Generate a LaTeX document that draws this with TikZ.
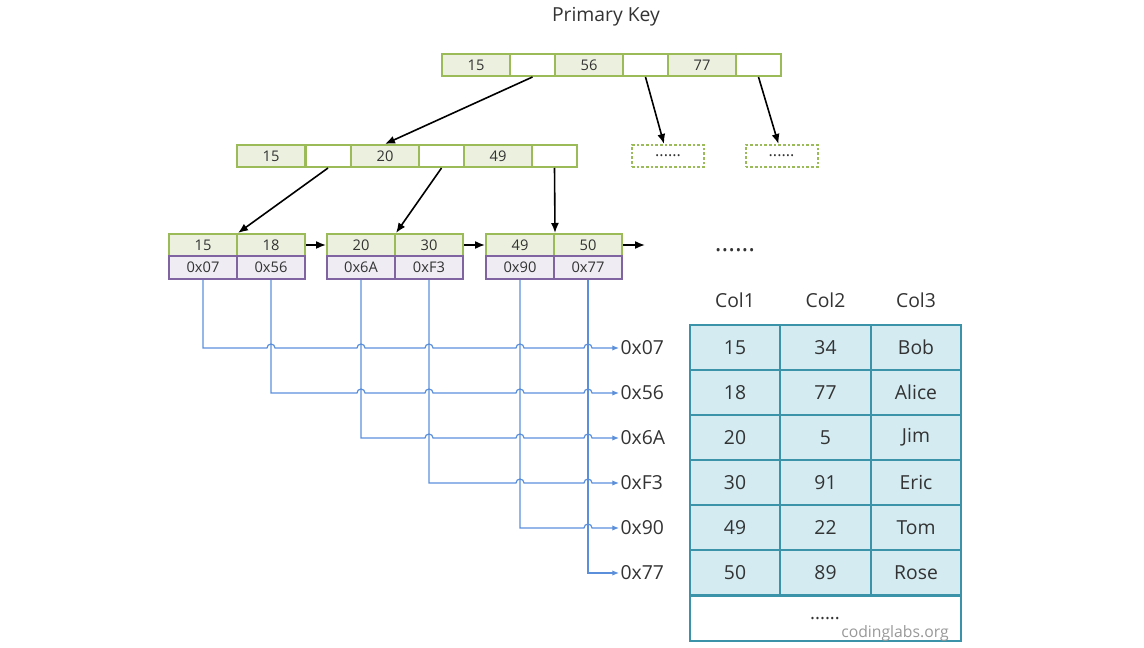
\documentclass[tikz,border=0pt]{standalone}
\usepackage{fontspec}
\setmainfont{Open Sans}
\usetikzlibrary{arrows.meta,calc}
\definecolor{kgreen}{HTML}{9BBB59}
\definecolor{kgreenf}{HTML}{EBF1DE}
\definecolor{kpurple}{HTML}{8064A2}
\definecolor{kpurplef}{HTML}{EFECF3}
\definecolor{bline}{HTML}{5B8FDB}
\definecolor{tfill}{HTML}{D3EBF1}
\definecolor{tborder}{HTML}{3A93A8}
\definecolor{txt}{HTML}{333333}
\begin{document}
\begin{tikzpicture}[x=0.75pt,y=-0.75pt,
  kc/.style={draw=kgreen, fill=kgreenf, line width=1.5pt, minimum width=51pt, minimum height=16.5pt, inner sep=0pt, text=txt, font=\fontsize{11}{12}\selectfont},
  ec/.style={kc, fill=white, minimum width=33.75pt},
  dc/.style={draw=kgreen, line width=1.5pt, dash pattern=on 2pt off 1.5pt, minimum width=54pt, minimum height=16.5pt, inner sep=0pt, text=txt, font=\fontsize{12}{12}\selectfont},
  pc/.style={draw=kpurple, fill=kpurplef, line width=1.5pt, minimum width=51pt, minimum height=17pt, inner sep=0pt, text=txt, font=\fontsize{11}{12}\selectfont},
  tc/.style={draw=tborder, fill=tfill, line width=1.5pt, minimum width=67.9pt, minimum height=33.75pt, inner sep=0pt, text=txt, font=\fontsize{14.5}{16}\selectfont},
  lbl/.style={text=txt, inner sep=1pt, font=\fontsize{14.5}{16}\selectfont},
  arr/.style={line width=1.2pt, -{Latex[length=7.5pt,width=6pt]}},
  bl/.style={draw=bline, line width=0.9pt, -{Latex[length=5pt,width=4pt]}}
]
\useasboundingbox (0,0) rectangle (1144,648);

\node[lbl] (title) at (606,17) {Primary Key};

% root
\node[kc] (r15) at (476,65) {15};
\node[ec] (re1) at (532.5,65) {};
\node[kc] (r56) at (589,65) {56};
\node[ec] (re2) at (645.5,65) {};
\node[kc] (r77) at (702,65) {77};
\node[ec] (re3) at (758.5,65) {};

% level 2
\node[kc] (m15) at (271,156) {15};
\node[ec] (me1) at (328,156) {};
\node[kc] (m20) at (385,156) {20};
\node[ec] (me2) at (441.5,156) {};
\node[kc] (m49) at (498,156) {49};
\node[ec] (me3) at (554.5,156) {};
\node[dc] (d1) at (668,156) {......};
\node[dc] (d2) at (781.5,156) {......};

% leaves
\node[kc] (k15) at (203,245) {15};
\node[kc] (k18) at (271,245) {18};
\node[kc] (k20) at (361,245) {20};
\node[kc] (k30) at (429,245) {30};
\node[kc] (k49) at (520,245) {49};
\node[kc] (k50) at (588,245) {50};
\node[pc] (p07) at (203,267.5) {0x07};
\node[pc] (p56) at (271,267.5) {0x56};
\node[pc] (p6A) at (361,267.5) {0x6A};
\node[pc] (pF3) at (429,267.5) {0xF3};
\node[pc] (p90) at (520,267.5) {0x90};
\node[pc] (p77) at (588,267.5) {0x77};
\coordinate (nxt) at (645,245);

% tree arrows
\draw[arr] (re1.south) -- (m20.north);
\draw[arr] (re2.south) -- ($(d1.north)+(-4,0)$);
\draw[arr] (re3.south) -- ($(d2.north)+(-3,0)$);
\draw[arr] (me1.south) -- (k15.north east);
\draw[arr] (me2.south) -- (k20.north east);
\draw[arr] (me3.south) -- (k49.north east);
\draw[arr] (k18.east) -- (k20.west);
\draw[arr] (k30.east) -- (k49.west);
\draw[arr] (k50.east) -- (nxt);

\node[text=txt, inner sep=0pt, font=\fontsize{19}{20}\selectfont] (dots) at (735,250) {......};

% address labels
\node[lbl, anchor=west] (l07) at (619,348) {0x07};
\node[lbl, anchor=west] (l56) at (619,393) {0x56};
\node[lbl, anchor=west] (l6A) at (619,438) {0x6A};
\node[lbl, anchor=west] (lF3) at (619,483) {0xF3};
\node[lbl, anchor=west] (l90) at (619,528) {0x90};
\node[lbl, anchor=west] (l77) at (619,573) {0x77};

% pointer connectors with jumps
\draw[bl] (p07.south) -- (p07.south |- l07.west)
  \foreach \c in {p56,p6A,pF3,p90,p77}{ -- ($(\c.south |- l07.west)+(-4,0)$) arc[start angle=180,end angle=0,radius=3pt]} -- (l07.west);
\draw[bl] (p56.south) -- (p56.south |- l56.west)
  \foreach \c in {p6A,pF3,p90,p77}{ -- ($(\c.south |- l56.west)+(-4,0)$) arc[start angle=180,end angle=0,radius=3pt]} -- (l56.west);
\draw[bl] (p6A.south) -- (p6A.south |- l6A.west)
  \foreach \c in {pF3,p90,p77}{ -- ($(\c.south |- l6A.west)+(-4,0)$) arc[start angle=180,end angle=0,radius=3pt]} -- (l6A.west);
\draw[bl] (pF3.south) -- (pF3.south |- lF3.west)
  \foreach \c in {p90,p77}{ -- ($(\c.south |- lF3.west)+(-4,0)$) arc[start angle=180,end angle=0,radius=3pt]} -- (lF3.west);
\draw[bl] (p90.south) -- (p90.south |- l90.west)
  \foreach \c in {p77}{ -- ($(\c.south |- l90.west)+(-4,0)$) arc[start angle=180,end angle=0,radius=3pt]} -- (l90.west);
\draw[bl] (p77.south) -- (p77.south |- l77.west) -- (l77.west);

% table
\node[lbl] (h1) at (735,300) {Col1};
\node[lbl] (h2) at (825.5,300) {Col2};
\node[lbl] (h3) at (916,300) {Col3};
\foreach \a/\b/\c [count=\i] in {15/34/Bob, 18/77/Alice, 20/5/Jim, 30/91/Eric, 49/22/Tom, 50/89/Rose}{
  \node[tc] (ta\i) at (735,302.5+45*\i) {\a};
  \node[tc] (tb\i) at (825.5,302.5+45*\i) {\b};
  \node[tc] (tc\i) at (916,302.5+45*\i) {\c};
}
\node[tc, fill=white, minimum width=203.25pt] (tlast) at (825.5,618.5) {};
\node[text=txt, inner sep=0pt, font=\fontsize{14}{14}\selectfont] (tdots) at (825,619) {......};
\node[text=gray!80, inner sep=0pt, font=\fontsize{11.8}{13}\selectfont] (wm) at (895,633) {codinglabs.org};
\end{tikzpicture}
\end{document}
